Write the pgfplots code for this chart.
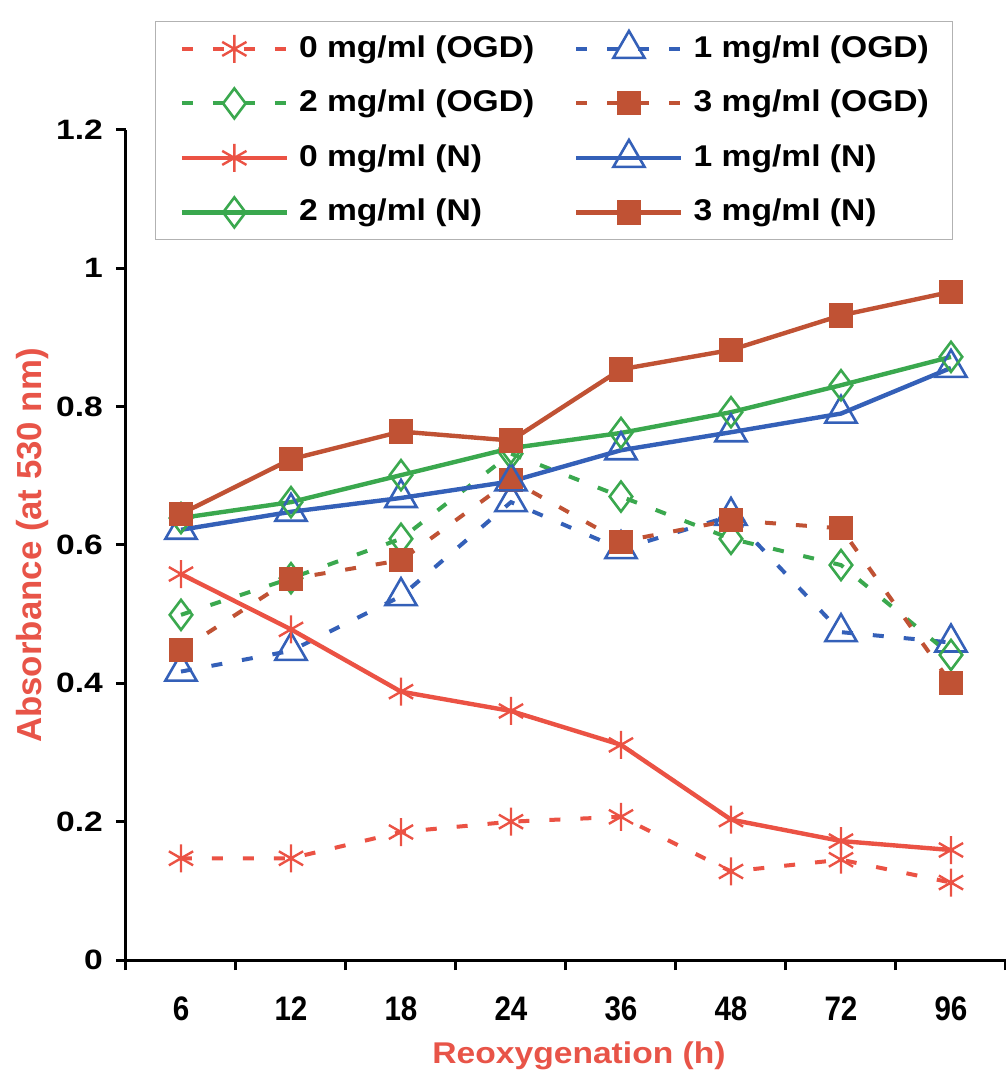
\documentclass[border=0pt]{standalone}
\usepackage{fontspec}
\setmainfont{Liberation Sans}[FakeStretch=1.12]
\newfontfamily\xtfont{Liberation Sans}[FakeStretch=0.87]
\newfontfamily\ytfont{Liberation Sans}[FakeStretch=1.2]
\newfontfamily\plainfont{Liberation Sans}
\usepackage{pgfplots}
\pgfplotsset{compat=1.18}
\definecolor{cred}{RGB}{235,82,68}
\definecolor{cblue}{RGB}{52,96,184}
\definecolor{cgreen}{RGB}{58,168,78}
\definecolor{cbrown}{RGB}{192,82,52}
\definecolor{labred}{RGB}{232,84,72}
\begin{document}
\begin{tikzpicture}
\useasboundingbox (-63pt,-61pt) rectangle (440pt,480pt);
\begin{axis}[
  scale only axis, width=440pt, height=415pt,
  xmin=-0.5, xmax=7.5, ymin=0, ymax=1.2,
  axis lines*=left,
  axis line style={line width=1.5pt},
  every tick/.style={black, line width=1.5pt},
  tick align=outside,
  major tick length=5pt,
  minor tick length=5pt,
  xtick={0,1,2,3,4,5,6,7},
  xticklabels={6,12,18,24,36,48,72,96},
  major x tick style={draw=none},
  minor xtick={-0.5,0.5,1.5,2.5,3.5,4.5,5.5,6.5,7.5},
  ytick={0,0.2,0.4,0.6,0.8,1,1.2},
  /pgf/number format/assume math mode=true,
  xticklabel style={font=\fontsize{17}{20}\selectfont\xtfont\bfseries, yshift=-10pt},
  yticklabel style={font=\fontsize{14}{17}\selectfont\ytfont\bfseries, xshift=-3pt},
  xlabel={Reoxygenation (h)},
  ylabel={Absorbance (at 530 nm)},
  xlabel style={font=\fontsize{15}{18}\selectfont\bfseries, text=labred,
    at={(axis description cs:0.5148,-0.1241)}, anchor=base},
  ylabel style={font=\fontsize{17.4}{20}\selectfont\plainfont\bfseries, text=labred,
    at={(axis description cs:-0.1063,0.4994)}, anchor=center},
  clip=false,
  legend columns=2,
  legend cell align=left,
  legend style={at={(0.033,1.1313)}, anchor=north west, draw=black!30, line width=0.6pt,
    fill=white, font=\fontsize{15}{18}\selectfont\bfseries,
    inner xsep=12pt, inner ysep=4.4pt, row sep=8.75pt, column sep=5pt,
    /tikz/column 2/.style={column sep=20pt},
    nodes={inner sep=0pt, text height=13.5pt, text depth=5pt}},
  legend image code/.code={\draw[mark repeat=2,mark phase=2] plot coordinates {(0pt,0pt) (26.25pt,0pt) (52.5pt,0pt)};},
  ogd/.style={line width=2pt, dash pattern=on 5.5pt off 10pt},
  nn/.style={line width=2.2pt, solid},
]
% OGD series
\addplot[ogd, color=cred, mark=asterisk, mark size=7pt, mark options={solid, line width=1.2pt}]
  coordinates {(0,0.147) (1,0.147) (2,0.185) (3,0.200) (4,0.207) (5,0.128) (6,0.145) (7,0.112)};
\addlegendentry{0 mg/ml (OGD)}
\addplot[ogd, color=cblue, mark=triangle, mark size=9pt, mark options={solid, line width=1.3pt}]
  coordinates {(0,0.417) (1,0.447) (2,0.526) (3,0.662) (4,0.594) (5,0.642) (6,0.474) (7,0.459)};
\addlegendentry{1 mg/ml (OGD)}
\addplot[ogd, color=cgreen, mark=diamond, mark size=7.5pt, mark options={solid, line width=1.3pt}]
  coordinates {(0,0.499) (1,0.552) (2,0.609) (3,0.732) (4,0.670) (5,0.609) (6,0.571) (7,0.441)};
\addlegendentry{2 mg/ml (OGD)}
\addplot[ogd, color=cbrown, mark=square*, mark size=5pt, mark options={solid}]
  coordinates {(0,0.448) (1,0.551) (2,0.578) (3,0.694) (4,0.605) (5,0.636) (6,0.624) (7,0.400)};
\addlegendentry{3 mg/ml (OGD)}
% Normal series
\addplot[nn, color=cred, mark=asterisk, mark size=7pt, mark options={solid, line width=1.2pt}]
  coordinates {(0,0.558) (1,0.478) (2,0.388) (3,0.360) (4,0.311) (5,0.203) (6,0.172) (7,0.159)};
\addlegendentry{0 mg/ml (N)}
\addplot[nn, color=cblue, mark=triangle, mark size=9pt, mark options={solid, line width=1.3pt}]
  coordinates {(0,0.622) (1,0.648) (2,0.668) (3,0.692) (4,0.737) (5,0.763) (6,0.790) (7,0.856)};
\addlegendentry{1 mg/ml (N)}
\addplot[nn, color=cgreen, mark=diamond, mark size=7.5pt, mark options={solid, line width=1.3pt}]
  coordinates {(0,0.639) (1,0.662) (2,0.701) (3,0.740) (4,0.762) (5,0.792) (6,0.831) (7,0.872)};
\addlegendentry{2 mg/ml (N)}
\addplot[nn, color=cbrown, mark=square*, mark size=5pt, mark options={solid}]
  coordinates {(0,0.645) (1,0.724) (2,0.764) (3,0.751) (4,0.854) (5,0.882) (6,0.932) (7,0.966)};
\addlegendentry{3 mg/ml (N)}
\end{axis}
\end{tikzpicture}
\end{document}
